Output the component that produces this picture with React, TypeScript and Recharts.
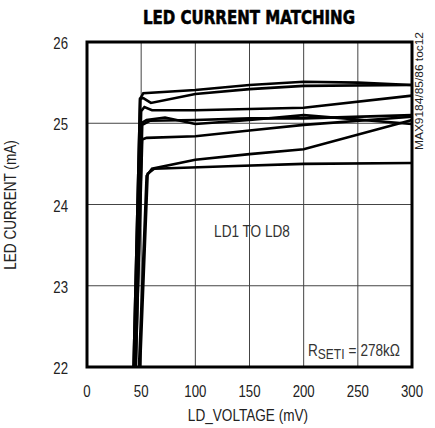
import React from "react"
import {
  CartesianGrid,
  Customized,
  Line,
  LineChart,
  ReferenceArea,
  XAxis,
  YAxis,
} from "recharts"

// LD_VOLTAGE (mV) / LED CURRENT (mA), one array per channel
const ld1 = [
  { v: 43, i: 22 }, { v: 49, i: 25.3 }, { v: 52, i: 25.37 }, { v: 100, i: 25.41 },
  { v: 150, i: 25.47 }, { v: 200, i: 25.51 }, { v: 250, i: 25.5 }, { v: 300, i: 25.47 },
]
const ld2 = [
  { v: 43, i: 22 }, { v: 49, i: 25.3 }, { v: 52, i: 25.31 }, { v: 59, i: 25.25 },
  { v: 100, i: 25.36 }, { v: 150, i: 25.42 }, { v: 200, i: 25.46 }, { v: 300, i: 25.47 },
]
const ld3 = [
  { v: 44, i: 22 }, { v: 50, i: 25.15 }, { v: 53, i: 25.2 }, { v: 60, i: 25.16 },
  { v: 100, i: 25.16 }, { v: 200, i: 25.19 }, { v: 300, i: 25.34 },
]
const ld4 = [
  { v: 44, i: 22 }, { v: 50, i: 25.0 }, { v: 55, i: 25.04 }, { v: 72, i: 25.07 },
  { v: 100, i: 24.99 }, { v: 150, i: 25.04 }, { v: 200, i: 25.1 }, { v: 300, i: 24.99 },
]
const ld5 = [
  { v: 45, i: 22 }, { v: 51, i: 24.98 }, { v: 58, i: 25.03 }, { v: 100, i: 25.04 },
  { v: 150, i: 25.06 }, { v: 200, i: 25.06 }, { v: 300, i: 25.1 },
]
const ld6 = [
  { v: 45, i: 22 }, { v: 51, i: 24.8 }, { v: 55, i: 24.82 }, { v: 100, i: 24.84 },
  { v: 150, i: 24.91 }, { v: 200, i: 24.98 }, { v: 300, i: 25.08 },
]
const ld7 = [
  { v: 48, i: 22 }, { v: 55, i: 24.35 }, { v: 60, i: 24.44 }, { v: 100, i: 24.55 },
  { v: 150, i: 24.62 }, { v: 200, i: 24.68 }, { v: 300, i: 25.04 },
]
const ld8 = [
  { v: 49, i: 22 }, { v: 56, i: 24.38 }, { v: 62, i: 24.44 }, { v: 130, i: 24.47 },
  { v: 200, i: 24.5 }, { v: 300, i: 24.51 },
]
const channels = [ld1, ld2, ld3, ld4, ld5, ld6, ld7, ld8]

const xTicks = [0, 50, 100, 150, 200, 250, 300]
const yTicks = [22, 23, 24, 25, 26]

const sans = "'Liberation Sans', Arial, sans-serif"
const squeeze = 0.8

// Liberation Sans squeezed sideways, standing in for a narrow face
function Narrow(props: any) {
  const { x, y, size = 16, anchor = "start", rotate = 0, fill = "#222", children } = props
  return (
    <text
      transform={`translate(${x} ${y}) rotate(${rotate}) scale(${squeeze} 1)`}
      textAnchor={anchor}
      fontFamily={sans}
      fontSize={size}
      fill={fill}
    >
      {children}
    </text>
  )
}

function XTick(props: any) {
  const { x, payload } = props
  return (
    <Narrow x={x} y={397} size={16.5} anchor="middle">
      {payload.value}
    </Narrow>
  )
}

function YTick(props: any) {
  const { y, payload } = props
  return (
    <Narrow x={68} y={y + 7} size={16.5} anchor="end">
      {payload.value}
    </Narrow>
  )
}

function Notes() {
  return (
    <g>
      <text
        x={143}
        y={24}
        textLength={212}
        lengthAdjust="spacingAndGlyphs"
        fontFamily="'DejaVu Sans', sans-serif"
        fontWeight="bold"
        fontSize={19}
        fill="#000"
        stroke="#000"
        strokeWidth={0.6}
      >
        LED CURRENT MATCHING
      </text>
      <text
        x={423}
        y={150}
        transform="rotate(-90 423 150)"
        textLength={118}
        lengthAdjust="spacingAndGlyphs"
        fontFamily={sans}
        fontSize={11}
        fill="#222"
      >
        MAX9184/85/86 toc12
      </text>
      <Narrow x={248} y={421} size={17} anchor="middle">
        LD_VOLTAGE (mV)
      </Narrow>
      <Narrow x={16} y={205} size={17} anchor="middle" rotate={-90}>
        LED CURRENT (mA)
      </Narrow>
      <Narrow x={252} y={237} size={17} anchor="middle" fill="#333">
        LD1 TO LD8
      </Narrow>
      <Narrow x={308} y={356} size={17} fill="#333">
        R
        <tspan fontSize={15} dy={3}>SETI</tspan>
        <tspan dy={-3} dx={5}>=</tspan>
        <tspan dx={5}>278kΩ</tspan>
      </Narrow>
    </g>
  )
}

export default function App() {
  return (
    <div style={{ position: "absolute", left: 0, top: 0 }}>
      <LineChart
        width={435}
        height={428}
        margin={{ top: 42, right: 23, bottom: 31, left: 27 }}
      >
        <CartesianGrid stroke="#444" strokeWidth={1} />
        <XAxis
          type="number"
          dataKey="v"
          domain={[0, 300]}
          ticks={xTicks}
          axisLine={false}
          tickLine={false}
          height={30}
          tick={<XTick />}
        />
        <YAxis
          type="number"
          dataKey="i"
          domain={[22, 26]}
          ticks={yTicks}
          allowDataOverflow
          axisLine={false}
          tickLine={false}
          width={60}
          tick={<YTick />}
        />
        {channels.map((d, k) => (
          <Line
            key={k}
            data={d}
            dataKey="i"
            type="linear"
            stroke="#000"
            strokeWidth={2.6}
            dot={false}
            activeDot={false}
            isAnimationActive={false}
          />
        ))}
        <ReferenceArea
          x1={0}
          x2={300}
          y1={22}
          y2={26}
          fill="none"
          stroke="#000"
          strokeWidth={3}
          fillOpacity={0}
        />
        <Customized component={Notes} />
      </LineChart>
    </div>
  )
}
